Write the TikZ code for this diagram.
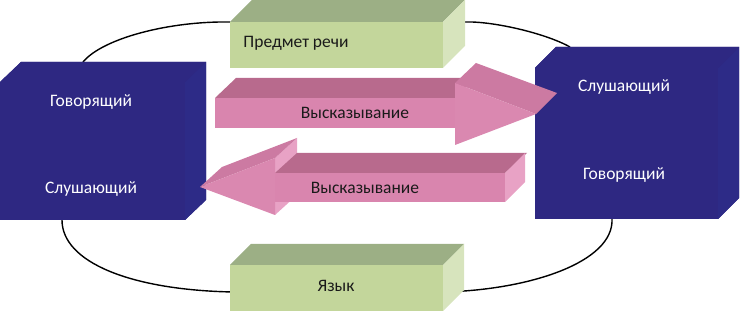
\documentclass[tikz,border=0pt]{standalone}
\usepackage{fontspec}
\setmainfont{Carlito}
\usetikzlibrary{calc}
\definecolor{bluefront}{HTML}{2E2882}
\definecolor{blueside}{HTML}{2D2B87}
\definecolor{greenfront}{HTML}{C3D69B}
\definecolor{greentop}{HTML}{9CAF85}
\definecolor{greenside}{HTML}{D7E4BD}
\definecolor{pinkfront}{HTML}{D985AE}
\definecolor{pinktop}{HTML}{B86A8D}
\definecolor{pinkheadtop}{HTML}{CC7AA2}
\definecolor{pinkhead}{HTML}{DA88B0}
\definecolor{pinkside}{HTML}{E8A2C5}
\definecolor{txt}{HTML}{1A1A1A}
\tikzset{
  face/.style={inner sep=0pt, outer sep=0pt},
  wlabel/.style={text=white, font=\fontsize{17.5}{20}\selectfont},
  dlabel/.style={text=txt, font=\fontsize{17.5}{20}\selectfont},
  link/.style={draw=black, line width=1.4pt}
}
\begin{document}
\begin{tikzpicture}[x=1pt,y=-1pt]
\useasboundingbox (0,0) rectangle (740,312);

% named front faces (invisible nodes)
\node[face, minimum width=185pt, minimum height=138pt] (lbox) at (92.5,151) {};
\node[face, minimum width=183pt, minimum height=151pt] (rbox) at (626.5,143.5) {};
\node[face, minimum width=213pt, minimum height=46pt] (topic) at (336.5,45) {};
\node[face, minimum width=213pt, minimum height=46pt] (lang) at (336.5,288) {};

\coordinate (c1a) at ($(lbox.north west)+(83,-20)$);
\coordinate (c2b) at ($(rbox.north west)+(35,-21)$);
\coordinate (c3a) at ($(lbox.south west)+(62,0)$);
\coordinate (c4a) at ($(rbox.south west)+(77,0)$);
\coordinate (c1b) at ($(topic.west)+(0,-23)$);
\coordinate (c2a) at ($(topic.east)+(22,-23)$);
\coordinate (c3b) at ($(lang.west)+(3,4)$);
\coordinate (c4b) at ($(lang.east)+(0,4)$);

% ---------- connectors ----------
\draw[link] (c1a) .. controls (103,38) and (170,21) .. (c1b);
\draw[link] (c2a) .. controls (492,21) and (545,33) .. (c2b);
\draw[link] (c3a) .. controls (62,262) and (130,290) .. (c3b);
\draw[link] (c4a) .. controls (614,262) and (530,290) .. (c4b);

% ---------- left blue box ----------
\fill[bluefront] (lbox.south west) -- (lbox.north west) -- ++(21,-20) -- ++(185,0) -- ++(0,138) -- (lbox.south east) -- cycle;
\fill[blueside] (lbox.north east) -- ++(21,-20) -- ++(0,138) -- (lbox.south east) -- cycle;
\fill[bluefront] (lbox.north west) -- ++(21,-20) -- ++(185,0) -- (lbox.north east) -- cycle;

% ---------- right blue box ----------
\fill[bluefront] (rbox.south west) -- (rbox.north west) -- ++(21,-21) -- ++(183,0) -- ++(0,151) -- (rbox.south east) -- cycle;
\fill[blueside] (rbox.north east) -- ++(21,-21) -- ++(0,151) -- (rbox.south east) -- cycle;
\fill[bluefront] (rbox.north west) -- ++(21,-21) -- ++(183,0) -- (rbox.north east) -- cycle;

% ---------- green boxes ----------
\fill[greentop] (topic.north west) -- ++(22,-22) -- ++(213,0) -- (topic.north east) -- cycle;
\fill[greenside] (topic.north east) -- ++(22,-22) -- ++(0,46) -- (topic.south east) -- cycle;
\fill[greenfront] (topic.north west) rectangle (topic.south east);

\fill[greentop] (lang.north west) -- ++(21,-21) -- ++(213,0) -- (lang.north east) -- cycle;
\fill[greenside] (lang.north east) -- ++(21,-21) -- ++(0,46) -- (lang.south east) -- cycle;
\fill[greenfront] (lang.north west) rectangle (lang.south east);

% ---------- upper arrow (to the right) ----------
\node[face, minimum width=240pt, minimum height=30pt] (utx) at (335,113) {};
\fill[pinktop] (utx.north west) -- ++(21,-20) -- ++(240,0) -- (utx.north east) -- cycle;
\fill[pinkfront] (utx.north west) rectangle (utx.south east);
\coordinate (uh1) at (455,83);
\coordinate (uh2) at (536,114);
\coordinate (uh3) at (455,145);
\fill[pinkheadtop] (uh1) -- ++(21,-20) -- (557,93) -- (uh2) -- cycle;
\fill[pinkhead] (uh1) -- (uh2) -- (uh3) -- cycle;

% ---------- lower arrow (to the left) ----------
\node[face, minimum width=230pt, minimum height=29pt] (ltx) at (390,187.5) {};
\coordinate (lh1) at (275,158);
\coordinate (lh2) at (200,187);
\coordinate (lh3) at (275,215);
\fill[pinkside] (lh1) -- ++(22,-20) -- ++(0,57) -- (lh3) -- cycle;
\fill[pinkheadtop] (lh2) -- ++(22,-20) -- (297,138) -- (lh1) -- cycle;
\fill[pinkhead] (lh1) -- (lh2) -- (lh3) -- cycle;
\fill[pinktop] (ltx.north west) -- ++(22,-20) -- ++(230,0) -- (ltx.north east) -- cycle;
\fill[pinkside] (ltx.north east) -- ++(20,-20) -- ++(0,29) -- (ltx.south east) -- cycle;
\fill[pinkfront] (ltx.north west) rectangle (ltx.south east);

% ---------- labels ----------
\node[wlabel] (l1) at (91,102) {Говорящий};
\node[wlabel] (l2) at (91,189) {Слушающий};
\node[wlabel] (r1) at (624,87) {Слушающий};
\node[wlabel] (r2) at (624,175) {Говорящий};
\node[dlabel] (tp) at (296,43) {Предмет речи};
\node[dlabel] (lg) at (336,286) {Язык};
\node[dlabel] (ua) at (355,113) {Высказывание};
\node[dlabel] (la) at (365,188) {Высказывание};
\end{tikzpicture}
\end{document}
